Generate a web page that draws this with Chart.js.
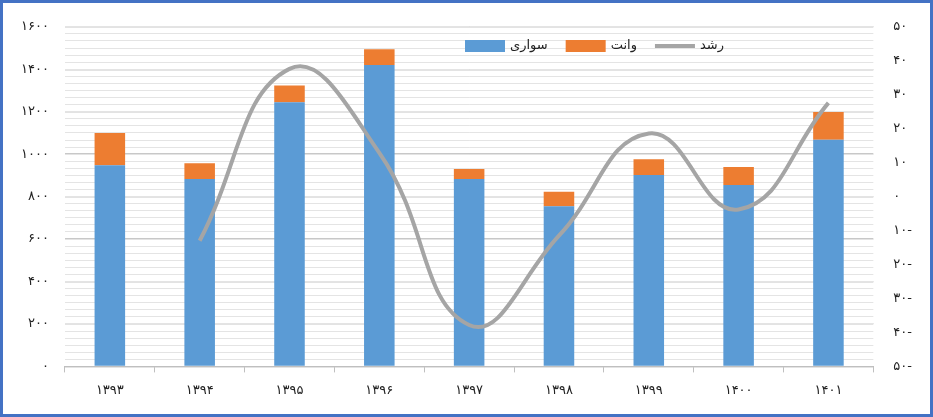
<!DOCTYPE html>
<html><head><meta charset="utf-8">
<script src="https://cdn.jsdelivr.net/npm/chart.js@4.4.3/dist/chart.umd.min.js"></script>
<style>
html,body{margin:0;padding:0;background:#fff;}
#box{position:absolute;left:0;top:0;width:927px;height:411px;border:3px solid #4472C4;background:#fff;}
</style></head>
<body><div id="box"><canvas id="c" width="927" height="411"></canvas></div>
<script>
// ---------- داده ----------
const years = ["1393","1394","1395","1396","1397","1398","1399","1400","1401"];
const sedan = [948, 883, 1244, 1420, 883, 754, 902, 855, 1068];
const van = [152, 74, 79, 74, 47, 69, 74, 84, 130];
const growth = [null, -13, 37.6, 12.9, -37.8, -11.5, 18.6, -3.8, 27.6];

const fa = (s) => String(s).replace(/\d/g, (d) => "۰۱۲۳۴۵۶۷۸۹"[d]);
const FF = "'DejaVu Sans', sans-serif";
const font = { family: FF, size: 13 };

// legend drawn inside the plot, top center
const legendPlugin = {
  id: "inLegend",
  afterDraw(chart) {
    const ctx = chart.ctx;
    const y = 43;
    ctx.save();
    ctx.font = "13px " + FF;
    ctx.textBaseline = "middle";
    ctx.fillStyle = "#fff";
    let x = 462;
    chart.data.datasets.forEach((ds) => {
      const tw = ctx.measureText(ds.label).width;
      if (ds.type === "line") {
        ctx.strokeStyle = ds.borderColor; ctx.lineWidth = 4;
        ctx.beginPath(); ctx.moveTo(x, y); ctx.lineTo(x + 40, y); ctx.stroke();
      } else {
        ctx.fillStyle = ds.backgroundColor; ctx.fillRect(x, y - 6, 40, 12);
      }
      ctx.fillStyle = "#222";
      ctx.fillText(ds.label, x + 45, y);
      x += 45 + tw + 18;
    });
    ctx.restore();
  },
};

new Chart(document.getElementById("c"), {
  type: "bar",
  data: {
    labels: years.map(fa),
    datasets: [
      { label: "سواری", data: sedan, backgroundColor: "#5B9BD5", stack: "s", yAxisID: "y", order: 2, categoryPercentage: 0.68, barPercentage: 0.5 },
      { label: "وانت", data: van, backgroundColor: "#ED7D31", stack: "s", yAxisID: "y", order: 2, categoryPercentage: 0.68, barPercentage: 0.5 },
      { type: "line", label: "رشد", data: growth, borderColor: "#A5A5A5", backgroundColor: "#A5A5A5", borderWidth: 4, pointRadius: 0, tension: 0.45, yAxisID: "y2", order: 1 },
    ],
  },
  plugins: [legendPlugin],
  options: {
    responsive: false,
    animation: false,
    layout: { padding: { left: 2, right: 6, top: 12, bottom: 6 } },
    plugins: { legend: { display: false }, tooltip: { enabled: false } },
    scales: {
      x: { stacked: true, grid: { display: true, drawOnChartArea: false, tickLength: 6, color: "#BFBFBF", offset: true }, border: { color: "#BFBFBF" }, ticks: { font, color: "#222", padding: 10 } },
      y: { stacked: true, min: 0, max: 1600, position: "left", ticks: { stepSize: 200, font, color: "#222", padding: 16, callback: (v) => fa(v) }, grid: { color: "#C8C8C8", lineWidth: 1.5, drawTicks: false }, border: { display: false } },
      yg: { display: true, min: 0, max: 1600, position: "left", ticks: { stepSize: 200 / 6, display: false }, grid: { color: "#E4E4E4", drawTicks: false }, border: { display: false }, afterFit: (s) => { s.width = 0; } },
      y2: { min: -50, max: 50, position: "right", ticks: { stepSize: 10, font, color: "#222", padding: 12, callback: (v) => (v < 0 ? fa(-v) + "-" : fa(v)) }, grid: { display: false }, border: { display: false } },
    },
  },
});
</script></body></html>
